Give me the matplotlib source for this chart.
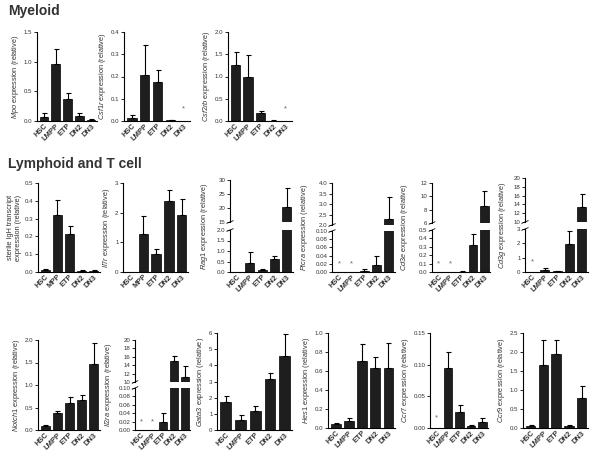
import numpy as np
import matplotlib
matplotlib.use("Agg")
import matplotlib.pyplot as plt

plt.rcParams['font.family'] = ['Liberation Sans', 'DejaVu Sans']
plt.rcParams['mathtext.fontset'] = 'custom'
plt.rcParams['mathtext.it'] = 'Liberation Sans:italic'
plt.rcParams['mathtext.rm'] = 'Liberation Sans'

# categories
cats = ["HSC", "LMPP", "ETP", "DN2", "DN3"]
cats_mpp = ["HSC", "MPP", "ETP", "DN2", "DN3"]

# values (mean) and upper error for each gene
mpo_val = [0.07, 0.96, 0.37, 0.09, 0.02]
mpo_err = [0.07, 0.25, 0.10, 0.05, 0.01]
csf1r_val = [0.012, 0.205, 0.175, 0.003, 0.0]
csf1r_err = [0.013, 0.135, 0.053, 0.002, 0.0]
csf2rb_val = [1.25, 1.0, 0.18, 0.01, 0.0]
csf2rb_err = [0.30, 0.49, 0.05, 0.005, 0.0]

igh_val = [0.01, 0.32, 0.215, 0.006, 0.008]
igh_err = [0.007, 0.085, 0.045, 0.003, 0.004]
il7r_val = [0.01, 1.28, 0.62, 2.40, 1.93]
il7r_err = [0.0, 0.62, 0.15, 0.38, 0.52]
rag1_val = [0.02, 0.45, 0.10, 0.63, 20.3]
rag1_err = [0.0, 0.50, 0.04, 0.15, 6.9]
ptcra_val = [0.0, 0.0, 0.003, 0.016, 2.3]
ptcra_err = [0.0, 0.0, 0.005, 0.024, 1.05]
cd3e_val = [0.0, 0.0, 0.005, 0.32, 8.6]
cd3e_err = [0.0, 0.0, 0.002, 0.13, 2.2]
cd3g_val = [0.0, 0.12, 0.05, 1.95, 13.3]
cd3g_err = [0.0, 0.13, 0.02, 0.90, 3.0]

notch1_val = [0.10, 0.38, 0.60, 0.66, 1.46]
notch1_err = [0.01, 0.05, 0.13, 0.11, 0.47]
il2ra_val = [0.0, 0.0, 0.018, 15.0, 11.2]
il2ra_err = [0.0, 0.0, 0.022, 1.2, 2.5]
gata3_val = [1.75, 0.62, 1.20, 3.13, 4.55]
gata3_err = [0.37, 0.28, 0.28, 0.37, 1.40]
hes1_val = [0.04, 0.07, 0.71, 0.63, 0.63]
hes1_err = [0.015, 0.04, 0.17, 0.12, 0.27]
ccr7_val = [0.0, 0.095, 0.026, 0.003, 0.010]
ccr7_err = [0.0, 0.025, 0.011, 0.001, 0.006]
ccr9_val = [0.05, 1.65, 1.95, 0.05, 0.78]
ccr9_err = [0.03, 0.67, 0.37, 0.04, 0.32]

# asterisks = not detected
csf1r_star = [4]
csf2rb_star = [4]
ptcra_star = [0, 1]
cd3e_star = [0, 1]
cd3g_star = [0]
il2ra_star = [0, 1]
ccr7_star = [0]

W, H = 601, 459
fig = plt.figure(figsize=(W / 100, H / 100), dpi=100)
fig.patch.set_facecolor('white')

TXT = '#333333'
BAR = '#1e1e1e'


def new_ax(L, R, T, B):
    return fig.add_axes([L / W, 1 - B / H, (R - L) / W, (B - T) / H])


def style(ax, bottom=True):
    for s in ['top', 'right']:
        ax.spines[s].set_visible(False)
    ax.spines['left'].set_linewidth(0.8)
    ax.spines['bottom'].set_linewidth(0.8)
    ax.spines['bottom'].set_visible(bottom)
    ax.tick_params(axis='y', direction='out', length=2, width=0.6,
                   labelsize=4.4, pad=1.2, colors='black', labelcolor=TXT)
    ax.tick_params(axis='x', length=0, pad=1)
    ax.set_xlim(-0.6, 4.5)
    ax.patch.set_alpha(0)


def draw(ax, vals, errs, stars=(), star_y=0):
    x = np.arange(len(vals))
    ax.bar(x, vals, width=0.74, color=BAR, edgecolor='black', linewidth=0.5)
    xe = [i for i in x if errs[i] > 0]
    ax.errorbar(xe, [vals[i] for i in xe], yerr=[[0] * len(xe), [errs[i] for i in xe]],
                fmt='none', ecolor='black', elinewidth=0.8, capsize=1.8, capthick=0.8)
    for i in stars:
        ax.text(i, star_y, '*', ha='center', va='center', fontsize=5.5, color='#666666')


def xlabels(ax, labels):
    ax.set_xticks(range(len(labels)))
    ax.set_xticklabels(labels, rotation=45, ha='right', rotation_mode='anchor',
                       fontsize=5.4, fontweight='bold', color=TXT)


def simple(box, vals, errs, ylim, yticks, fmt, label, labels=cats, stars=(), star_y=0):
    ax = new_ax(*box)
    style(ax)
    draw(ax, vals, errs, stars, star_y)
    ax.set_ylim(*ylim)
    ax.set_yticks(yticks)
    ax.set_yticklabels([fmt % t for t in yticks])
    xlabels(ax, labels)
    ax.set_ylabel(label, fontsize=5.3, color=TXT, labelpad=2)
    return ax


def broken(L, R, T, M1, M2, B, vals, errs, ylo, yhi, tlo, thi, flo, fhi, label, lab_x,
           stars=(), star_y=0):
    up = new_ax(L, R, T, M1)
    lo = new_ax(L, R, M2, B)
    style(up, bottom=False)
    style(lo)
    draw(up, vals, errs)
    draw(lo, vals, errs, stars, star_y)
    up.set_ylim(*yhi)
    lo.set_ylim(*ylo)
    up.set_yticks(thi)
    up.set_yticklabels([fhi % t for t in thi])
    lo.set_yticks(tlo)
    lo.set_yticklabels([flo % t for t in tlo])
    up.set_xticks([])
    xlabels(lo, cats)
    # break marks on the spine
    d = 0.06
    up.plot([-0.05, 0.05], [-d * 0.5, d * 0.5], transform=up.transAxes, color='black',
            lw=0.6, clip_on=False)
    lo.plot([-0.05, 0.05], [1 - d * 0.5, 1 + d * 0.5], transform=lo.transAxes, color='black',
            lw=0.6, clip_on=False)
    fig.text(lab_x / W, 1 - (T + B) / 2 / H, label, rotation=90, ha='center', va='center',
             fontsize=5.3, color=TXT)


def lab(g):
    return r'$\it{' + g + r'}$ expression (relative)'


# titles
fig.text(8 / W, 1 - 11 / H, 'Myeloid', fontsize=10, fontweight='bold', color=TXT,
         va='center', ha='left')
fig.text(8 / W, 1 - 164 / H, 'Lymphoid and T cell', fontsize=10, fontweight='bold',
         color=TXT, va='center', ha='left')

# Myeloid row
simple((37, 97, 32, 121), mpo_val, mpo_err, (0, 1.5), [0, 0.5, 1.0, 1.5], '%.1f', lab('Mpo'))
simple((124, 190, 32, 121), csf1r_val, csf1r_err, (0, 0.4), [0, 0.1, 0.2, 0.3, 0.4], '%.1f',
       lab('Csf1r'), stars=csf1r_star, star_y=0.055)
simple((228, 292, 32, 121), csf2rb_val, csf2rb_err, (0, 2.0), [0, 0.5, 1.0, 1.5, 2.0], '%.1f',
       lab('Csf2rb'), stars=csf2rb_star, star_y=0.28)

# Lymphoid row
simple((38, 100, 183, 272), igh_val, igh_err, (0, 0.5), [0, 0.1, 0.2, 0.3, 0.4, 0.5], '%.1f',
       'sterile IgH transcript\nexpression (relative)', labels=cats_mpp)
simple((123, 188, 183, 272), il7r_val, il7r_err, (0, 3), [0, 1, 2, 3], '%d', lab('Il7r'),
       labels=cats_mpp)
broken(230, 293, 180, 222, 230, 272, rag1_val, rag1_err, (0, 2.0), (15, 30),
       [0, 0.5, 1.0, 1.5, 2.0], [15, 20, 25, 30], '%.1f', '%d', lab('Rag1'), 205)
broken(332, 395, 183, 225, 231, 272, ptcra_val, ptcra_err, (0, 0.10), (2.0, 4.0),
       [0, 0.02, 0.04, 0.06, 0.08, 0.10], [2.0, 2.5, 3.0, 3.5, 4.0], '%.2f', '%.1f',
       lab('Ptcra'), 304, stars=ptcra_star, star_y=0.02)
broken(432, 490, 183, 223, 230, 272, cd3e_val, cd3e_err, (0, 0.5), (6, 12),
       [0, 0.1, 0.2, 0.3, 0.4, 0.5], [6, 8, 10, 12], '%.1f', '%d',
       lab('Cd3e'), 405, stars=cd3e_star, star_y=0.1)
broken(525, 588, 178, 222, 229, 272, cd3g_val, cd3g_err, (0, 3), (10, 20),
       [0, 1, 2, 3], [10, 12, 14, 16, 18, 20], '%d', '%d',
       lab('Cd3g'), 503, stars=cd3g_star, star_y=0.7)

# bottom row
simple((38, 100, 340, 430), notch1_val, notch1_err, (0, 2.0), [0, 0.5, 1.0, 1.5, 2.0], '%.1f',
       lab('Notch1'))
broken(135, 190, 340, 382, 388, 430, il2ra_val, il2ra_err, (0, 0.10), (10, 20),
       [0, 0.02, 0.04, 0.06, 0.08, 0.10], [10, 12, 14, 16, 18, 20], '%.2f', '%d',
       lab('Il2ra'), 109, stars=il2ra_star, star_y=0.02)
simple((217, 292, 333, 430), gata3_val, gata3_err, (0, 6), [0, 1, 2, 3, 4, 5, 6], '%d',
       lab('Gata3'))
simple((328, 395, 333, 428), hes1_val, hes1_err, (0, 1.0), [0, 0.2, 0.4, 0.6, 0.8, 1.0], '%.1f',
       lab('Hes1'))
simple((430, 488, 333, 428), ccr7_val, ccr7_err, (0, 0.15), [0, 0.05, 0.10, 0.15], '%.2f',
       lab('Ccr7'), stars=ccr7_star, star_y=0.016)
simple((523, 588, 333, 428), ccr9_val, ccr9_err, (0, 2.5), [0, 0.5, 1.0, 1.5, 2.0, 2.5], '%.1f',
       lab('Ccr9'))

fig.savefig('out.png', dpi=100, facecolor='white')
